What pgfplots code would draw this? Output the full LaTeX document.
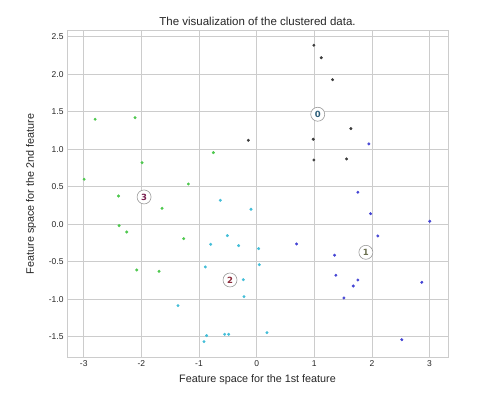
\documentclass[border=0pt]{standalone}
\usepackage{fontspec}
\setmainfont{Liberation Sans}
\newfontfamily\dejavu{DejaVu Sans}
\usepackage{pgfplots}
\pgfplotsset{compat=1.18}
\definecolor{gridc}{HTML}{CCCCCC}
\definecolor{txt}{HTML}{262626}
\definecolor{cz}{HTML}{3C3C3C}
\definecolor{co}{HTML}{4444D4}
\definecolor{ct}{HTML}{44BED8}
\definecolor{ch}{HTML}{4EC84E}
\definecolor{lz}{HTML}{2E5F7A}
\definecolor{lo}{HTML}{6B7050}
\definecolor{lt}{HTML}{8B2A3A}
\definecolor{lh}{HTML}{7A2050}
\begin{document}
\begin{tikzpicture}
\path[use as bounding box] (0,0) rectangle (480bp,395bp);
\begin{axis}[
  at={(67bp,38bp)}, anchor=south west,
  scale only axis, width=381bp, height=326bp,
  xmin=-3.29, xmax=3.32, ymin=-1.77, ymax=2.577,
  xtick={-3,-2,-1,0,1,2,3},
  ytick={-1.5,-1,-0.5,0,0.5,1,1.5,2,2.5},
  yticklabel style={/pgf/number format/fixed, /pgf/number format/fixed zerofill, /pgf/number format/precision=1},
  /pgf/number format/assume math mode=true,
  ticklabel style={font=\fontsize{8.5bp}{10bp}\selectfont, text=txt},
  major tick length=0pt,
  grid=major, grid style={gridc, line width=0.8bp},
  axis line style={gridc, line width=1bp},
  title={The visualization of the clustered data.},
  title style={font=\fontsize{11.5bp}{13bp}\selectfont, text=txt, yshift=-4.5bp},
  xlabel={Feature space for the 1st feature},
  ylabel={Feature space for the 2nd feature},
  label style={font=\fontsize{10.8bp}{12bp}\selectfont, text=txt},
  xlabel style={yshift=-1bp},
  ylabel style={yshift=6bp},
  clip=false,
]
% cluster 0
\addplot[only marks, mark=*, mark size=1.3bp, color=cz] coordinates {
(0.993,2.387) (1.121,2.221) (1.317,1.928) (1.635,1.275) (0.982,1.133)
(0.993,0.857) (1.560,0.871) (-0.144,1.120)
};
% cluster 1
\addplot[only marks, mark=*, mark size=1.3bp, color=co] coordinates {
(1.947,1.071) (1.756,0.427) (1.976,0.141) (3.004,0.040) (2.103,-0.156)
(0.693,-0.263) (1.352,-0.413) (1.375,-0.680) (1.756,-0.743) (1.676,-0.823)
(1.514,-0.983) (2.865,-0.774) (2.518,-1.539)
};
% cluster 2
\addplot[only marks, mark=*, mark size=1.3bp, color=ct] coordinates {
(-0.630,0.320) (-0.098,0.200) (-0.508,-0.152) (-0.797,-0.267) (-0.312,-0.285)
(0.035,-0.325) (0.046,-0.539) (-0.890,-0.569) (-0.231,-0.739) (-0.219,-0.965)
(-1.364,-1.085) (-0.867,-1.485) (-0.555,-1.467) (-0.485,-1.467) (-0.913,-1.565)
(0.179,-1.445)
};
% cluster 3
\addplot[only marks, mark=*, mark size=1.3bp, color=ch] coordinates {
(-2.802,1.400) (-2.109,1.421) (-1.988,0.821) (-2.993,0.600) (-0.751,0.955)
(-1.184,0.537) (-2.397,0.377) (-1.641,0.213) (-2.386,-0.019) (-2.253,-0.103)
(-1.265,-0.192) (-2.080,-0.609) (-1.693,-0.627)
};
% centers
\addplot[only marks, mark=*, mark size=7bp, mark options={fill=white, draw=black!40, line width=0.6bp},
  nodes near coords={0}, nodes near coords style={anchor=center, text=lz, font=\dejavu\bfseries\fontsize{8.5bp}{9bp}\selectfont}] coordinates {(1.06,1.467)};
\addplot[only marks, mark=*, mark size=7bp, mark options={fill=white, draw=black!40, line width=0.6bp},
  nodes near coords={1}, nodes near coords style={anchor=center, text=lo, font=\dejavu\bfseries\fontsize{8.5bp}{9bp}\selectfont}] coordinates {(1.895,-0.374)};
\addplot[only marks, mark=*, mark size=7bp, mark options={fill=white, draw=black!40, line width=0.6bp},
  nodes near coords={2}, nodes near coords style={anchor=center, text=lt, font=\dejavu\bfseries\fontsize{8.5bp}{9bp}\selectfont}] coordinates {(-0.462,-0.743)};
\addplot[only marks, mark=*, mark size=7bp, mark options={fill=white, draw=black!40, line width=0.6bp},
  nodes near coords={3}, nodes near coords style={anchor=center, text=lh, font=\dejavu\bfseries\fontsize{8.5bp}{9bp}\selectfont}] coordinates {(-1.953,0.364)};
\end{axis}
\end{tikzpicture}
\end{document}
